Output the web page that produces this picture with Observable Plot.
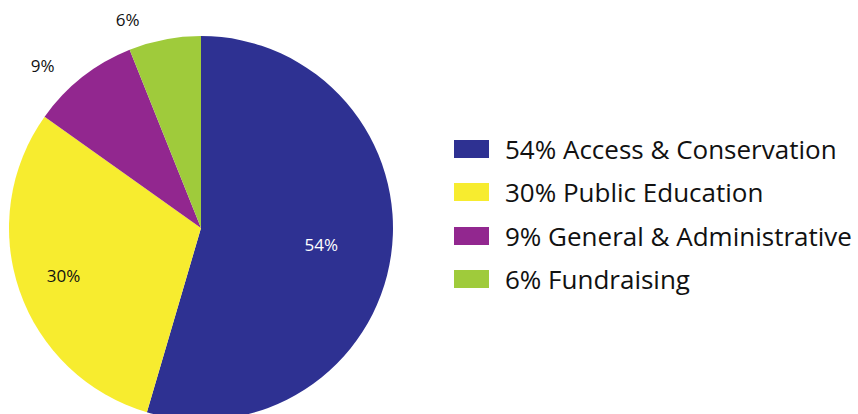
<!DOCTYPE html>
<html>
<head>
<meta charset="utf-8">
<script src="https://cdn.jsdelivr.net/npm/d3@7"></script>
<script src="https://cdn.jsdelivr.net/npm/@observablehq/plot@0.6"></script>
<style>
  html, body { margin: 0; padding: 0; background: #fff; }
  #wrap { position: relative; width: 858px; height: 414px; overflow: hidden; font-family: "Open Sans", Lato, sans-serif; }
  #legend { position: absolute; left: 454px; top: 127px; }
  .row { display: flex; align-items: center; height: 43.5px; }
  .sw { width: 35px; height: 18px; margin-right: 16px; }
  .lab { font-size: 26px; color: #111; white-space: nowrap; }
</style>
</head>
<body>
<div id="wrap"><div id="chart"></div><div id="legend"></div></div>
<script>
const categories = ["Access & Conservation", "Public Education", "General & Administrative", "Fundraising"];
const values = [54, 30, 9, 6];
const colors = ["#2e3192", "#f7ec2f", "#92278f", "#9fcb3b"];
const labelColors = ["#ffffff", "#111111", "#111111", "#111111"];

const color = Plot.scale({color: {domain: categories, range: colors}});
const pie = d3.pie().sort(null).value(d => d.value)(categories.map((c, i) => ({category: c, value: values[i]})));

// label placement (layout only): radius factor and angular nudge in degrees
const labelR = [0.63, 0.76, 1.18, 1.15];
const labelNudge = [0, 0, -6.3, -8.6];
const labels = pie.map((p, i) => {
  const a = (p.startAngle + p.endAngle) / 2 + labelNudge[i] * Math.PI / 180;
  return {x: labelR[i] * Math.sin(a), y: labelR[i] * Math.cos(a), text: `${p.data.value}%`, fill: labelColors[i]};
});

function wedges(index, scales, values_, dimensions, context) {
  const cx = scales.x(0), cy = scales.y(0);
  const r = scales.x(1) - scales.x(0);
  const arc = d3.arc().innerRadius(0).outerRadius(r);
  const g = d3.create("svg:g").attr("transform", `translate(${cx},${cy})`);
  g.selectAll("path").data(pie).join("path")
    .attr("d", arc)
    .attr("fill", d => color.apply(d.data.category));
  return g.node();
}

const chart = Plot.plot({
  width: 858,
  height: 414,
  marginLeft: 9,
  marginRight: 465,
  marginTop: 36,
  marginBottom: -6,
  x: {domain: [-1, 1], axis: null},
  y: {domain: [-1, 1], axis: null},
  style: {fontFamily: "'Open Sans', Lato, sans-serif", background: "transparent"},
  marks: [
    wedges,
    Plot.text(labels, {x: "x", y: "y", text: "text", fill: "fill", fontSize: 17})
  ]
});
document.getElementById("chart").appendChild(chart);

const legend = d3.select("#legend");
categories.forEach((c, i) => {
  const row = legend.append("div").attr("class", "row");
  row.append("div").attr("class", "sw").style("background", color.apply(c));
  row.append("div").attr("class", "lab").text(`${values[i]}% ${c}`);
});
</script>
</body>
</html>
